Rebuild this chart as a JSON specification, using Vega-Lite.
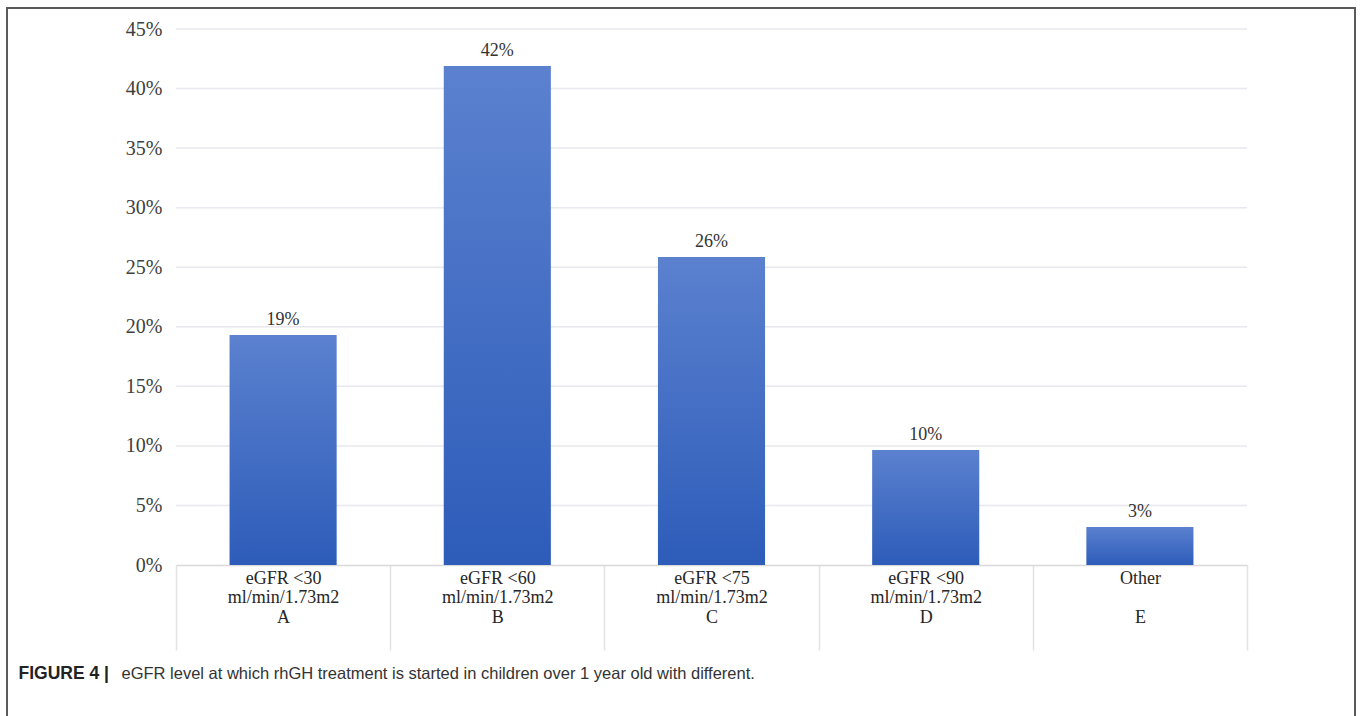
{
  "$schema": "https://vega.github.io/schema/vega-lite/v6.json",
  "autosize": {"type": "none"},
  "padding": {"left": 7, "top": 8, "right": 5, "bottom": 0},
  "width": 1348,
  "height": 720,
  "background": "white",
  "config": {
    "view": {"stroke": "#5a5a5a", "strokeWidth": 2},
    "font": "Liberation Serif"
  },
  "datasets": {
    "bars": [
      {"category": "A", "share": 0.193},
      {"category": "B", "share": 0.419},
      {"category": "C", "share": 0.2585},
      {"category": "D", "share": 0.0965},
      {"category": "E", "share": 0.032}
    ],
    "grid": [
      {"tick": 0.05}, {"tick": 0.10}, {"tick": 0.15}, {"tick": 0.20},
      {"tick": 0.25}, {"tick": 0.30}, {"tick": 0.35}, {"tick": 0.40}, {"tick": 0.45}
    ]
  },
  "layer": [
    {
      "data": {"name": "grid"},
      "mark": {"type": "rule", "color": "#e8e8ee", "strokeWidth": 1.5},
      "encoding": {
        "x": {"datum": 0, "type": "quantitative", "scale": {"domain": [0, 1], "range": [169, 1240]}, "axis": null},
        "x2": {"datum": 1},
        "y": {
          "field": "tick", "type": "quantitative",
          "scale": {"domain": [0, 0.45], "range": [557, 21]},
          "axis": {
            "orient": "left",
            "offset": -155,
            "values": [0, 0.05, 0.1, 0.15, 0.2, 0.25, 0.3, 0.35, 0.4, 0.45],
            "format": ".0%",
            "grid": false,
            "domain": false,
            "ticks": false,
            "tickSize": 0,
            "labelPadding": 0,
            "labelFont": "Liberation Serif",
            "labelFontSize": 20,
            "labelColor": "#404040",
            "title": "FIGURE 4 |",
            "titleFont": "Liberation Sans",
            "titleFontSize": 17.5,
            "titleFontWeight": "bold",
            "titleColor": "#222222",
            "titleAngle": 0,
            "titleAlign": "left",
            "titleBaseline": "alphabetic",
            "titleX": -144,
            "titleY": 670
          }
        }
      }
    },
    {
      "data": {"name": "bars"},
      "layer": [
        {
          "mark": {
            "type": "bar",
            "width": {"band": 0.5},
            "color": {
              "gradient": "linear", "x1": 0, "y1": 0, "x2": 0, "y2": 1,
              "stops": [
                {"offset": 0, "color": "#5b81cf"},
                {"offset": 1, "color": "#2d5cb9"}
              ]
            }
          },
          "encoding": {
            "x": {
              "field": "category", "type": "nominal", "sort": null,
              "scale": {"range": [169, 1240], "paddingInner": 0, "paddingOuter": 0},
              "axis": {
                "orient": "bottom",
                "offset": -163,
                "domainColor": "#d9d9d9",
                "domainWidth": 1.5,
                "tickBand": "extent",
                "tickSize": 85,
                "tickColor": "#e3e3e3",
                "tickWidth": 1.5,
                "labelAngle": 0,
                "labelFont": "Liberation Serif",
                "labelFontSize": 18,
                "labelColor": "#262626",
                "labelBaseline": "top",
                "labelPadding": -81,
                "labelLineHeight": 19.5,
                "labelExpr": "({'A': ['eGFR <30', 'ml/min/1.73m2', 'A'], 'B': ['eGFR <60', 'ml/min/1.73m2', 'B'], 'C': ['eGFR <75', 'ml/min/1.73m2', 'C'], 'D': ['eGFR <90', 'ml/min/1.73m2', 'D'], 'E': ['Other', '\u200b', 'E']})[datum.value]",
                "title": "eGFR level at which rhGH treatment is started in children over 1 year old with different.",
                "titleFont": "Liberation Sans",
                "titleFontSize": 16.5,
                "titleFontWeight": "normal",
                "titleColor": "#333333",
                "titleAnchor": "start",
                "titleAlign": "left",
                "titleBaseline": "alphabetic",
                "titleX": 114,
                "titleY": 113
              }
            },
            "y": {
              "field": "share", "type": "quantitative",
              "axis": {
                "orient": "left",
                "offset": -155,
                "values": [0, 0.05, 0.1, 0.15, 0.2, 0.25, 0.3, 0.35, 0.4, 0.45],
                "format": ".0%",
                "grid": false,
                "domain": false,
                "ticks": false,
                "tickSize": 0,
                "labelPadding": 0,
                "labelFont": "Liberation Serif",
                "labelFontSize": 20,
                "labelColor": "#404040",
                "title": "FIGURE 4 |",
                "titleFont": "Liberation Sans",
                "titleFontSize": 17.5,
                "titleFontWeight": "bold",
                "titleColor": "#222222",
                "titleAngle": 0,
                "titleAlign": "left",
                "titleBaseline": "alphabetic",
                "titleX": -144,
                "titleY": 670
              }
            }
          }
        },
        {
          "mark": {"type": "text", "baseline": "alphabetic", "dy": -10, "font": "Liberation Serif", "fontSize": 18, "color": "#333333"},
          "encoding": {
            "x": {"field": "category", "type": "nominal", "sort": null},
            "y": {"field": "share", "type": "quantitative"},
            "text": {"field": "share", "type": "quantitative", "format": ".0%"}
          }
        }
      ]
    }
  ],
  "resolve": {"scale": {"x": "independent"}}
}
